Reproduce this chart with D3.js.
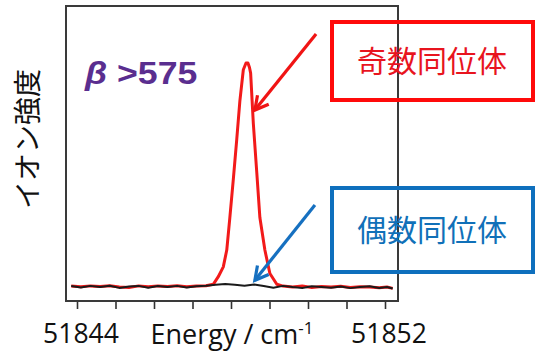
<!DOCTYPE html>
<html><head><meta charset="utf-8">
<script src="https://cdn.jsdelivr.net/npm/d3@7"></script>
<style>html,body{margin:0;padding:0;background:#fff;}</style>
</head><body>
<svg id="c" width="536" height="354"></svg>
<script>
// ---- data ----
const tickValues = [51844,51845,51846,51847,51848,51849,51850,51851,51852];
const tickLabels = ["51844","","","","","","","","51852"];
const oddEnergy = [51843.85,51844.1,51844.35,51844.6,51844.85,51845.1,51845.35,51845.6,51845.85,51846.1,51846.35,51846.6,51846.85,51847.1,51847.35,51847.54,51847.67,51847.8,51847.89,51847.97,51848.06,51848.15,51848.23,51848.32,51848.39,51848.44,51848.48,51848.51,51848.58,51848.67,51848.75,51848.88,51849.01,51849.19,51849.35,51849.6,51849.85,51850.1,51850.35,51850.6,51850.85,51851.1,51851.35,51851.6,51851.85,51852.05,51852.2];
const oddIntensity = [0.004,0.001,0.005,0.002,0.006,0.0,-0.002,0.005,0.001,0.005,0.002,0.006,0.001,0.004,0.006,0.012,0.046,0.09,0.165,0.31,0.48,0.66,0.83,0.97,1.0,1.0,0.98,0.955,0.73,0.51,0.31,0.165,0.06,0.012,0.004,0.0,0.004,-0.002,0.002,0.0,0.003,-0.002,0.001,0.0,-0.003,0.0,-0.006];
const evenEnergy = [51843.85,51844.1,51844.35,51844.6,51844.85,51845.1,51845.35,51845.6,51845.85,51846.1,51846.35,51846.6,51846.85,51847.1,51847.35,51847.6,51847.85,51848.1,51848.35,51848.6,51848.85,51849.1,51849.35,51849.6,51849.85,51850.1,51850.35,51850.6,51850.85,51851.1,51851.35,51851.6,51851.85,51852.05,51852.2];
const evenIntensity = [0.004,-0.002,0.005,0.0,0.006,-0.004,0.002,0.005,-0.003,0.004,0.0,0.005,-0.002,0.003,0.006,0.01,0.013,0.01,0.006,0.011,0.004,-0.003,0.005,0.0,-0.004,0.003,0.0,-0.003,0.002,-0.005,0.0,0.003,-0.004,0.0,-0.007];
// annotation arrows in data coordinates: [tailE, tailI, tipE, tipI]
const oddArrow = [51850.21, 1.13, 51848.62, 0.79];
const evenArrow = [51850.18, 0.366, 51848.62, 0.03];

const svg = d3.select("#c");
const frame = {left:66, top:6, right:398, bottom:301};
const x = d3.scaleLinear().domain([51844,51852]).range([77,385]);
const y = d3.scaleLinear().domain([0,1]).range([287,63]);

// ticks
const axis = d3.axisBottom(x).tickValues(tickValues).tickSize(8).tickFormat("");
const ag = svg.append("g").attr("transform",`translate(0,${frame.bottom})`).call(axis);
ag.select(".domain").remove();
ag.selectAll(".tick line").attr("stroke","#333").attr("stroke-width",1.6);

// lines
const line = d3.line().x(d=>x(d[0])).y(d=>y(d[1]));
svg.append("path").datum(d3.zip(oddEnergy, oddIntensity)).attr("d",line)
  .attr("fill","none").attr("stroke","#f21a1a").attr("stroke-width",3).attr("stroke-linejoin","round");
svg.append("path").datum(d3.zip(evenEnergy, evenIntensity)).attr("d",line)
  .attr("fill","none").attr("stroke","#1a1a1a").attr("stroke-width",2).attr("stroke-linejoin","round");

// frame
svg.append("rect").attr("x",frame.left).attr("y",frame.top)
  .attr("width",frame.right-frame.left).attr("height",frame.bottom-frame.top)
  .attr("fill","none").attr("stroke","#3a3a3a").attr("stroke-width",2);

// arrows
function arrow(a, color){
  const x1=x(a[0]), y1=y(a[1]), x2=x(a[2]), y2=y(a[3]);
  const ang=Math.atan2(y2-y1,x2-x1), L=15, w=0.5;
  svg.append("line").attr("x1",x1).attr("y1",y1).attr("x2",x2).attr("y2",y2)
    .attr("stroke",color).attr("stroke-width",3.2);
  const p1=[x2-L*Math.cos(ang-w), y2-L*Math.sin(ang-w)];
  const p2=[x2-L*Math.cos(ang+w), y2-L*Math.sin(ang+w)];
  svg.append("path").attr("d",`M${p1}L${x2},${y2}L${p2}`).attr("fill","none")
    .attr("stroke",color).attr("stroke-width",3.2).attr("stroke-linejoin","miter");
}
arrow(oddArrow,"#f01414");
arrow(evenArrow,"#1670c0");

// beta label
const bt = svg.append("text").attr("transform","translate(85,84) scale(1.15,1)").attr("fill","#5a2e8f")
  .attr("font-family","Liberation Sans, Arial, sans-serif").attr("font-weight","bold").attr("font-size",31);
bt.append("tspan").attr("font-style","italic").text("β");
bt.append("tspan").text(" >575");

// boxes
const cjk = "Noto Sans CJK JP, sans-serif";
svg.append("rect").attr("x",332).attr("y",22).attr("width",201).attr("height",78)
  .attr("fill","none").attr("stroke","#ff0a0a").attr("stroke-width",4);
svg.append("text").attr("x",432).attr("y",72).attr("text-anchor","middle")
  .attr("font-family",cjk).attr("font-size",30).attr("fill","#e8141e").text("奇数同位体");
svg.append("rect").attr("x",332).attr("y",188).attr("width",201).attr("height",84)
  .attr("fill","none").attr("stroke","#0e6fbd").attr("stroke-width",4);
svg.append("text").attr("x",432).attr("y",241).attr("text-anchor","middle")
  .attr("font-family",cjk).attr("font-size",30).attr("fill","#1070b8").text("偶数同位体");

// y label
svg.append("text").attr("transform","translate(38,139) rotate(-90)").attr("text-anchor","middle")
  .attr("font-family",cjk).attr("font-size",28).attr("fill","#111").text("イオン強度");

// x labels
const lf = "Open Sans, Liberation Sans, sans-serif";
tickValues.forEach((v,i)=>{ if(tickLabels[i]) svg.append("text").attr("x",x(v)+4).attr("y",343)
  .attr("text-anchor","middle").attr("font-family",lf).attr("font-size",26.5).attr("fill","#111").text(tickLabels[i]); });
const xt = svg.append("text").attr("x",232).attr("y",344).attr("text-anchor","middle")
  .attr("font-family",lf).attr("font-size",27).attr("fill","#111");
xt.append("tspan").text("Energy / cm");
xt.append("tspan").attr("font-size",17).attr("dy",-10).text("-1");
</script>
</body></html>
